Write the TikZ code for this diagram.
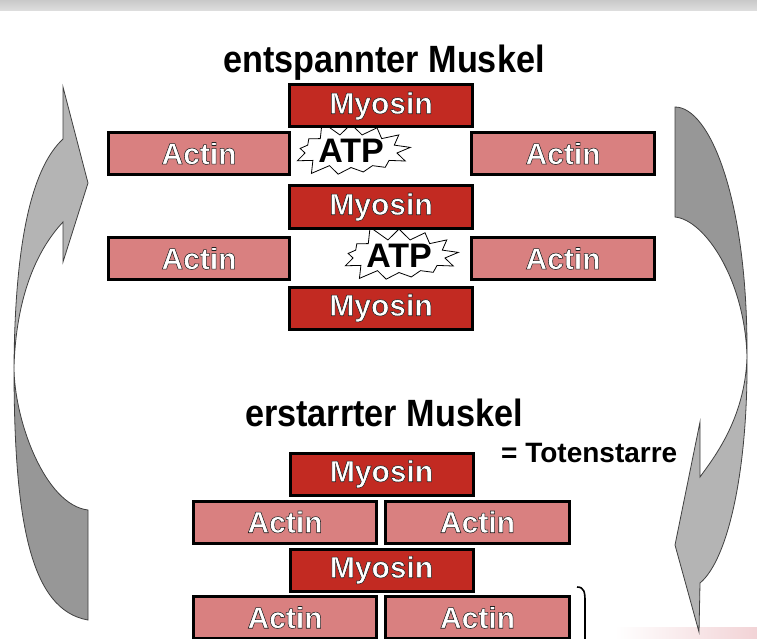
\documentclass[tikz,border=0pt]{standalone}
\usepackage{fontspec}
\setmainfont{Liberation Sans}
\newfontfamily\titlefont[FakeStretch=0.9]{Liberation Sans}
\usetikzlibrary{shapes.symbols}
\definecolor{myored}{HTML}{C22A22}
\definecolor{actinpink}{HTML}{D98080}
\definecolor{arrlight}{HTML}{B4B4B4}
\definecolor{arrdark}{HTML}{979797}
\definecolor{bandgray}{HTML}{C9C9C9}
\definecolor{fadepink}{HTML}{F2D3D6}
\newcommand{\outltext}[1]{\special{pdf:literal direct 2 Tr 0.55 w 0.12 0.12 0.12 RG}#1\special{pdf:literal direct 0 Tr}}
\tikzset{
  boxbase/.style={draw=black, line width=3pt, minimum height=42pt, minimum width=183pt, inner sep=0pt},
  myobox/.style={boxbase, fill=myored},
  actbox/.style={boxbase, fill=actinpink},
  boxtxt/.style={text=white, font=\bfseries\fontsize{30}{31}\selectfont, inner sep=0pt},
  atpstar/.style={starburst, starburst points=13, starburst point height=17pt, random starburst=5,
     draw=black, line width=0.8pt, fill=white, inner sep=0pt,
     font=\bfseries\fontsize{34}{36}\selectfont},
  titletxt/.style={font=\titlefont\bfseries\fontsize{38}{40}\selectfont, inner sep=0pt, anchor=base},
  arrowshape/.style={draw=black!75, line width=0.8pt, line join=miter}
}
\newcommand{\labbox}[6]{%
  \node[#2, minimum width=#5] (#1) at (#3,#4) {};
  \node[boxtxt] (#1t) at (#1.center) {\outltext{#6}};
}
\begin{document}
\begin{tikzpicture}[x=1pt, y=-1pt]
\useasboundingbox (0,0) rectangle (757,639);
\fill[white] (0,0) rectangle (757,639);
% top band
\shade[top color=bandgray, bottom color=bandgray!60] (0,0) rectangle (757,11);
% bottom right pink fade
\shade[left color=white, right color=fadepink] (615,627) rectangle (757,639);

% left arrow
\path[arrowshape, fill=arrdark] (14,367) .. controls (14,520) and (30,610) .. (88,620)
   -- (88,510) .. controls (45,505) and (14,420) .. (14,367) -- cycle;
\path[arrowshape, fill=arrlight] (63,87) -- (88,183) -- (63,262) -- (63,222)
   .. controls (35,252) and (16,300) .. (14,367)
   .. controls (15,230) and (35,165) .. (63,139) -- cycle;

% right arrow
\path[arrowshape, fill=arrdark] (675,107) -- (675,217)
   .. controls (705,220) and (745,280) .. (747,357)
   .. controls (748,200) and (710,107) .. (675,107) -- cycle;
\path[arrowshape, fill=arrlight] (747,357) .. controls (748,470) and (728,560) .. (700,583)
   -- (699,632) -- (675,545) -- (700,422) -- (700,477)
   .. controls (712,460) and (745,420) .. (747,357) -- cycle;

% titles
\node[titletxt] (t1) at (384,73) {entspannter Muskel};
\node[titletxt] (t2) at (384,426) {erstarrter Muskel};
\node[font=\bfseries\fontsize{28}{29}\selectfont, anchor=base west, inner sep=0pt] (tot) at (501,462) {= Totenstarre};

% ATP stars
\node[atpstar, minimum width=114pt, minimum height=62pt] (atp1) at (351,151) {ATP};
\node[atpstar, minimum width=110pt, minimum height=60pt] (atp2) at (399,256) {ATP};

% relaxed muscle
\labbox{m1}{myobox}{381}{106}{183pt}{Myosin}
\labbox{a1l}{actbox}{199}{153.5}{181pt}{Actin}
\labbox{a1r}{actbox}{563}{153.5}{183pt}{Actin}
\labbox{m2}{myobox}{381}{207}{183pt}{Myosin}
\labbox{a2l}{actbox}{199}{258.5}{181pt}{Actin}
\labbox{a2r}{actbox}{563}{258.5}{183pt}{Actin}
\labbox{m3}{myobox}{381}{308}{183pt}{Myosin}

% rigid muscle
\labbox{m4}{myobox}{381.5}{474}{183pt}{Myosin}
\labbox{a3l}{actbox}{285}{522}{183pt}{Actin}
\labbox{a3r}{actbox}{477.5}{522}{184pt}{Actin}
\labbox{m5}{myobox}{381.5}{570}{183pt}{Myosin}
\labbox{a4l}{actbox}{285}{617.5}{183pt}{Actin}
\labbox{a4r}{actbox}{477.5}{617.5}{184pt}{Actin}

% bracket
\coordinate (br1) at (577,587);
\coordinate (br2) at (585,639);
\draw[line width=1.6pt] (br1) .. controls (584,587) and (585,592) .. (585,601) -- (br2);
\end{tikzpicture}
\end{document}
